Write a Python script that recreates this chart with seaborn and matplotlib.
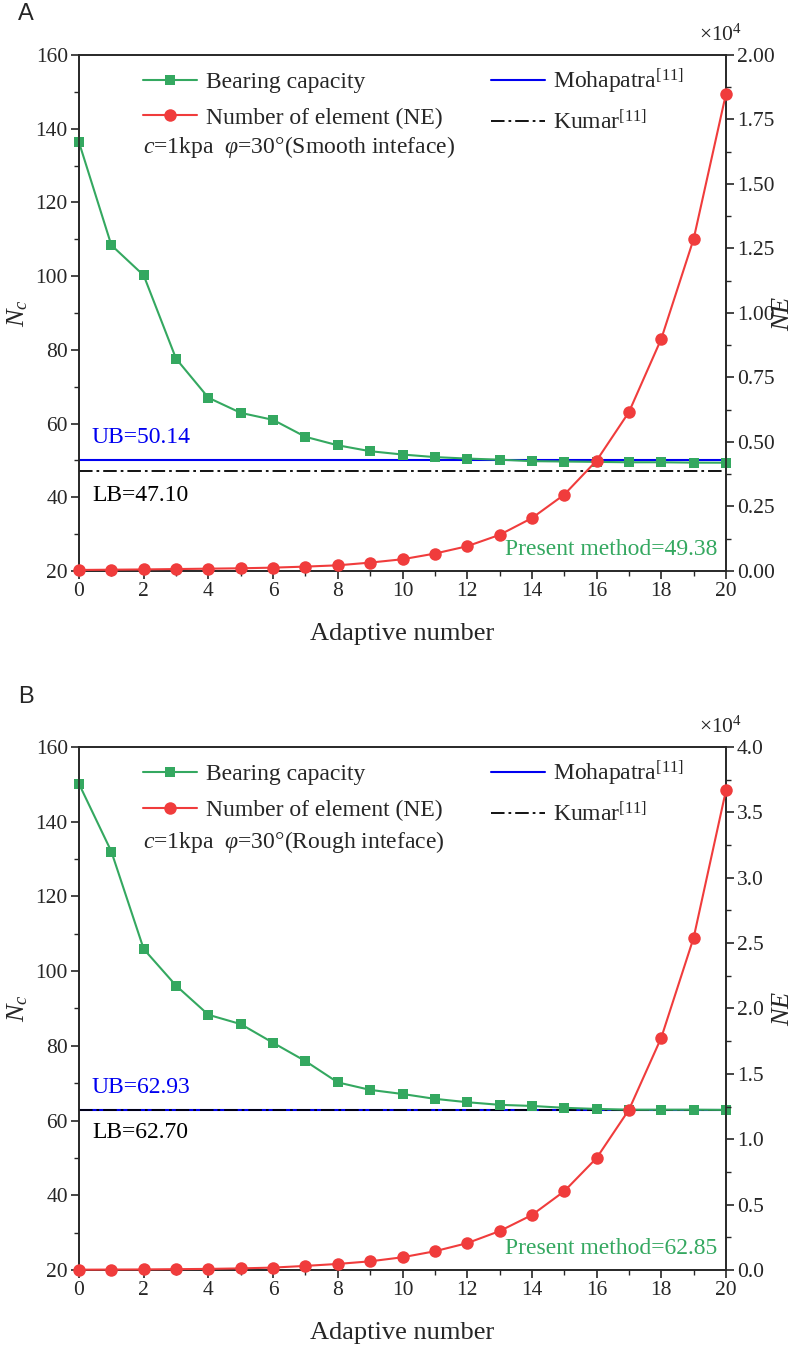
import numpy as np
import pandas as pd
import matplotlib
matplotlib.use("Agg")
import matplotlib.pyplot as plt
from matplotlib.lines import Line2D
from matplotlib.ticker import MultipleLocator, FuncFormatter
import seaborn as sns

# ---------------- data ----------------
adaptive = list(range(21))
nc_smooth = [136.3, 108.4, 100.2, 77.6, 67.0, 62.9, 61.0, 56.4, 54.1, 52.5, 51.6,
             50.9, 50.5, 50.2, 49.8, 49.7, 49.6, 49.5, 49.5, 49.4, 49.38]
ne_smooth = [40, 50, 60, 75, 90, 105, 130, 170, 220, 325, 455,
             675, 960, 1400, 2050, 2960, 4280, 6160, 9000, 12870, 18500]
nc_rough = [150.1, 132.0, 105.9, 96.1, 88.3, 85.8, 80.8, 75.9, 70.2, 68.2, 67.1,
            65.8, 64.9, 64.2, 63.9, 63.4, 63.1, 62.9, 62.9, 62.9, 62.85]
ne_rough = [20, 30, 40, 60, 80, 120, 180, 310, 460, 660, 970,
            1430, 2050, 2970, 4200, 6020, 8560, 12250, 17770, 25410, 36690]
ub_smooth, lb_smooth, present_smooth = 50.14, 47.10, 49.38
ub_rough, lb_rough, present_rough = 62.93, 62.70, 62.85
legend_labels = ["Bearing capacity", "Number of element (NE)",
                 "Mohapatra$^{[11]}$", "Kumar$^{[11]}$"]
cond_smooth = r"$c$=1kpa  $\varphi$=30°(Smooth inteface)"
cond_rough = r"$c$=1kpa  $\varphi$=30°(Rough inteface)"

# ---------------- style ----------------
sns.set_style("ticks")
plt.rcParams['font.family'] = ['Liberation Serif', 'DejaVu Serif']
plt.rcParams['mathtext.fontset'] = 'custom'
plt.rcParams['mathtext.rm'] = 'Liberation Serif'
plt.rcParams['mathtext.it'] = 'Liberation Serif:italic'
plt.rcParams['mathtext.bf'] = 'Liberation Serif:bold'
plt.rcParams['axes.linewidth'] = 1.2

GREEN = "#34A860"
RED = "#F03C3C"
BLUE = "#0000F0"
DASHDOT = (0, (7.5, 2.2, 1.5, 2.2))
TICK_FS = 15.5
TEXT_FS = 17
LABEL_FS = 19

fig = plt.figure(figsize=(8.0, 13.47), dpi=100)


def panel(rect, nc, ne, ub, lb, present, ne_top, ne_major, ne_dec, cond, letter, letter_y):
    ax = fig.add_axes(rect)
    ax2 = ax.twinx()
    ax.axhline(ub, color=BLUE, lw=1.5, zorder=2)
    ax.axhline(lb, color='black', lw=1.3, ls=DASHDOT, zorder=2)
    sns.lineplot(x=adaptive, y=nc, ax=ax, color=GREEN, marker='s', markersize=7.5,
                 markeredgecolor=GREEN, markeredgewidth=0, lw=1.5, clip_on=False,
                 zorder=3, legend=False)
    sns.lineplot(x=adaptive, y=ne, ax=ax2, color=RED, marker='o', markersize=9,
                 markeredgecolor=RED, markeredgewidth=0, lw=1.5, clip_on=False,
                 zorder=3, legend=False)

    ax.set_xlim(0, 20)
    ax.set_ylim(20, 160)
    ax2.set_ylim(0, ne_top)
    ax.xaxis.set_major_locator(MultipleLocator(2))
    ax.xaxis.set_minor_locator(MultipleLocator(1))
    ax.yaxis.set_major_locator(MultipleLocator(20))
    ax.yaxis.set_minor_locator(MultipleLocator(10))
    ax2.yaxis.set_major_locator(MultipleLocator(ne_major))
    ax2.yaxis.set_minor_locator(MultipleLocator(ne_major / 2))
    ax2.yaxis.set_major_formatter(FuncFormatter(lambda v, p: f"{v / 1e4:.{ne_dec}f}"))

    for a in (ax, ax2):
        a.tick_params(which='major', length=6, width=1.2, direction='out',
                      labelsize=TICK_FS, pad=2)
        a.tick_params(which='minor', length=3.5, width=1.0, direction='out')
        for s in a.spines.values():
            s.set_visible(True)
            s.set_linewidth(1.2)
    ax.tick_params(top=False, right=False, which='both')
    ax2.tick_params(left=False, top=False, which='both')

    ax.set_xlabel("Adaptive number", fontsize=LABEL_FS)
    ax.xaxis.set_label_coords(0.5, -0.1)
    ax.set_ylabel("$N_c$", fontsize=LABEL_FS, va='center')
    ax.yaxis.set_label_coords(-0.094, 0.5)
    ax2.set_ylabel("$NE$", fontsize=LABEL_FS, va='center')
    ax2.yaxis.set_label_coords(1.088, 0.5)

    ax2.text(0.992, 1.018, "×10$^4$", transform=ax2.transAxes, ha='center',
             va='bottom', fontsize=TICK_FS)

    handles = [
        Line2D([], [], color=GREEN, marker='s', markersize=7.5, markeredgewidth=0, lw=1.5),
        Line2D([], [], color=RED, marker='o', markersize=9, markeredgewidth=0, lw=1.5),
        Line2D([], [], color=BLUE, lw=1.5),
        Line2D([], [], color='black', lw=1.3, ls=DASHDOT),
    ]
    ax2.legend(handles, legend_labels, ncol=2, loc='upper left',
               bbox_to_anchor=(0.099, 0.978), frameon=False, fontsize=TEXT_FS,
               borderpad=0, borderaxespad=0, handlelength=2.3, handletextpad=0.35,
               columnspacing=2.05, labelspacing=0.6)
    ax2.text(0.099, cond[1], cond[0], transform=ax2.transAxes, ha='left',
             va='center', fontsize=TEXT_FS)

    ax2.text(0.02, present[1], f"UB={ub:.2f}", color=BLUE, transform=ax2.transAxes,
             ha='left', va='center', fontsize=TEXT_FS)
    ax2.text(0.02, present[2], f"LB={lb:.2f}", color='black', transform=ax2.transAxes,
             ha='left', va='center', fontsize=TEXT_FS)
    ax2.text(0.987, 0.041, f"Present method={present[0]:.2f}", color=GREEN,
             transform=ax2.transAxes, ha='right', va='center', fontsize=TEXT_FS)

    fig.text(0.023, letter_y, letter, fontsize=17, family='Liberation Sans',
             ha='left', va='center')
    return ax, ax2


panel([0.09875, 0.5761, 0.80875, 0.3831], nc_smooth, ne_smooth, ub_smooth, lb_smooth,
      (present_smooth, 0.258, 0.147), 2.0e4, 0.25e4, 2, (cond_smooth, 0.822), "A",
      1 - 14 / 1347)
panel([0.09875, 0.0572, 0.80875, 0.3883], nc_rough, ne_rough, ub_rough, lb_rough,
      (present_rough, 0.348, 0.262), 4.0e4, 0.5e4, 1, (cond_rough, 0.818), "B",
      1 - 697 / 1347)

fig.savefig("out.png", dpi=100)
